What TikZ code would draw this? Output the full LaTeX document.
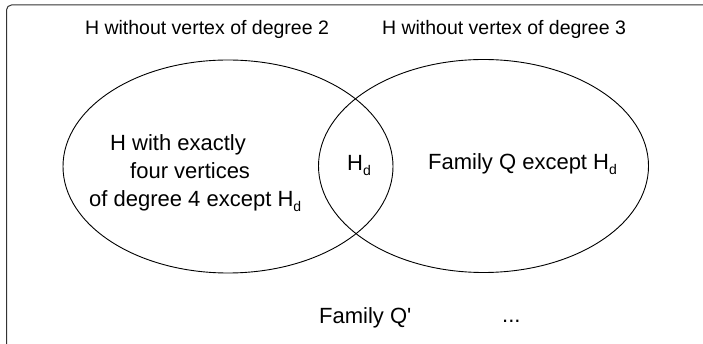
\documentclass[tikz,border=0pt]{standalone}
\usepackage{fontspec}
\setmainfont{Liberation Sans}
\newfontfamily\plainfont{Liberation Sans}
\usetikzlibrary{shapes.geometric}
\newcommand{\myHd}{H\raisebox{-4.5pt}{\fontsize{14}{14}\selectfont d}}
\begin{document}
\begin{tikzpicture}[x=1pt,y=-1pt,
  bigtxt/.style={font=\fontsize{22}{26}\selectfont, inner sep=0pt, anchor=base west},
  toptxt/.style={font=\fontsize{19.5}{22}\selectfont, inner sep=0pt, anchor=base},
  setell/.style={draw=black, line width=0.9pt, ellipse, inner sep=0pt, minimum width=330pt, minimum height=213pt}]
\useasboundingbox (0,0) rectangle (703,344);
\fill[white] (0,0) rectangle (703,344);
\draw[line width=1pt, draw=black!80, rounded corners=5pt] (6.5,350) -- (6.5,5) -- (710,5);
\node[setell] (L) at (228,166.5) {};
\node[setell] (R) at (483.5,166) {};
\node[toptxt] (t1) at (207,35) {H without vertex of degree 2};
\node[toptxt] (t2) at (504,35) {H without vertex of degree 3};
\node[bigtxt] (l1) at (110,151) {H with exactly};
\node[bigtxt] (l2) at (130,179) {four vertices};
\node[bigtxt] (l3) at (89,207) {of degree 4 except \myHd};
\node[bigtxt] (hd) at (347,171) {\myHd};
\node[bigtxt] (fq) at (428,170) {Family Q except \myHd};
\node[bigtxt] (fqp) at (319,323) {\plainfont Family Q'};
\node[bigtxt] (dots) at (502,322) {...};
\end{tikzpicture}
\end{document}
